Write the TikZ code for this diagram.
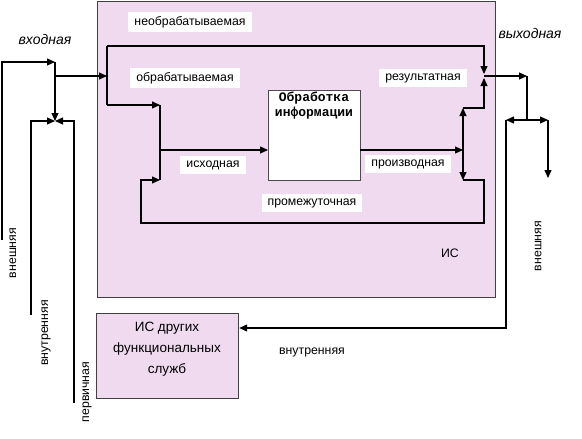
\documentclass[tikz,border=0pt]{standalone}
\usepackage{fontspec}
\setmainfont{Liberation Sans}
\newfontfamily\procfont{Liberation Mono}
\usetikzlibrary{arrows.meta}
\definecolor{pinkfill}{RGB}{240,218,240}
\tikzset{
  ln/.style={line width=1.1pt, black},
  arr/.style={ln, -{Triangle[length=8pt,width=7pt]}},
  darr/.style={ln, {Triangle[length=8pt,width=7pt]}-{Triangle[length=8pt,width=7pt]}},
  wlab/.style={fill=white, inner xsep=6pt, inner ysep=4pt, font=\fontsize{12.3}{14}\selectfont},
  plab/.style={inner sep=1pt, font=\fontsize{12.3}{14}\selectfont},
  ilab/.style={inner sep=1pt, font=\fontsize{14}{16}\selectfont\itshape},
  rlab/.style={inner sep=1pt, rotate=90, font=\fontsize{12.3}{14}\selectfont},
  bigbox/.style={draw=black!75, line width=1.2pt, fill=pinkfill, anchor=north west}
}
\begin{document}
\begin{tikzpicture}[x=1pt,y=-1pt]
\useasboundingbox (0,0) rectangle (582,439);
% main IS box
\node[bigbox, minimum width=398pt, minimum height=296pt] (is) at (97,1) {};
\node[plab] (islab) at (450,253) {ИС};
% other IS box
\node[bigbox, minimum width=142pt, minimum height=85pt] (other) at (96,313) {};
\node[align=center, font=\fontsize{13.5}{21}\selectfont, inner sep=0pt] (othertext) at (167,349) {ИС других\\функциональных\\служб};
% processing box
\node[draw=black!70, line width=1pt, fill=white, minimum width=92pt, minimum height=90pt, anchor=north west] (proc) at (268,90) {};
\node[align=center, inner sep=0pt, font=\procfont\bfseries\fontsize{13}{15}\selectfont] (proctext) at (314,106) {Обработка\\информации};

% coordinates
\coordinate (lext0) at (2,240);
\coordinate (lext1) at (2,62);
\coordinate (jin) at (55,62);
\coordinate (jmeet) at (55,121);
\coordinate (jin2) at (55,76);
\coordinate (lint0) at (31,315);
\coordinate (lint1) at (31,121);
\coordinate (lpri0) at (74,403);
\coordinate (lpri1) at (74,121);
\coordinate (a1) at (107,76);
\coordinate (a0) at (107,46);
\coordinate (a2) at (107,105);
\coordinate (b1) at (160,105);
\coordinate (b2) at (160,180);
\coordinate (b3) at (160,150);
\coordinate (pin) at (268,150);
\coordinate (pout) at (360,150);
\coordinate (c1) at (463,150);
\coordinate (c0) at (463,108);
\coordinate (c2) at (463,180);
\coordinate (d0) at (484,108);
\coordinate (d1) at (484,78);
\coordinate (e0) at (484,46);
\coordinate (e1) at (484,74);
\coordinate (f0) at (484,76);
\coordinate (f1) at (527,76);
\coordinate (f2) at (527,120);
\coordinate (g1) at (506,120);
\coordinate (g2) at (548,120);
\coordinate (g3) at (548,178);
\coordinate (h1) at (506,328);
\coordinate (loop1) at (484,180);
\coordinate (loop2) at (484,223);
\coordinate (loop3) at (141,223);
\coordinate (loop4) at (141,180);

% left inputs
\draw[arr] (lext0) -- (lext1) -- (jin);
\draw[arr] (jin) -- (jmeet);
\draw[arr] (jin2) -- (a1);
\draw[arr] (lint0) -- (lint1) -- (jmeet);
\draw[arr] (lpri0) -- (lpri1) -- (jmeet);
% inside
\draw[ln] (a0) -- (a2);
\draw[arr] (a2) -- (b1);
\draw[ln] (b1) -- (b2);
\draw[arr] (b3) -- (pin);
\draw[arr] (pout) -- (c1);
\draw[darr] (c0) -- (c2);
\draw[arr] (c2) -- (loop1) -- (loop2) -- (loop3) -- (loop4) -- (b2);
\draw[arr] (c0) -- (d0) -- (d1);
\draw[arr] (a0) -- (e0) -- (e1);
% outputs
\draw[arr] (f0) -- (f1);
\draw[ln] (f1) -- (f2);
\draw[arr] (f2) -- (g1);
\draw[arr] (f2) -- (g2);
\draw[arr] (g2) -- (g3);
\draw[arr] (g1) -- (h1) -- (other.east |- h1);

% labels
\node[wlab] (lneobr) at (190,22) {необрабатываемая};
\node[wlab] (lobr) at (185,78) {обрабатываемая};
\node[wlab] (lres) at (423,78) {результатная};
\node[wlab] (liskh) at (213,165) {исходная};
\node[wlab] (lproizv) at (408,164) {производная};
\node[wlab] (lprom) at (312,203) {промежуточная};
\node[ilab] (lvkh) at (45,39) {входная};
\node[ilab] (lvykh) at (530,33) {выходная};
\node[rlab] (lvnesh1) at (13,253) {внешняя};
\node[rlab] (lvnutr1) at (46,333) {внутренняя};
\node[rlab] (lperv) at (87,392) {первичная};
\node[rlab] (lvnesh2) at (538,246) {внешняя};
\node[plab] (lvnutr2) at (312,352) {внутренняя};
\end{tikzpicture}
\end{document}
